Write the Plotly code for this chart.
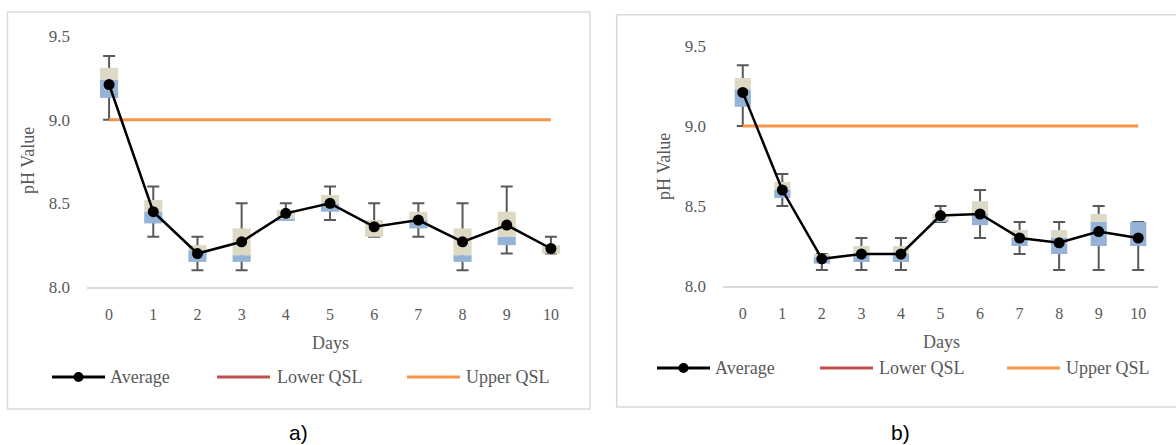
import plotly.graph_objects as go

W, H = 1176, 445

days = list(range(11))
tick_text = [str(d) for d in days]

# Panel a) statistics per day
a_min = [9.00, 8.30, 8.10, 8.10, 8.40, 8.40, 8.30, 8.30, 8.10, 8.20, 8.20]
a_q1 = [9.13, 8.38, 8.15, 8.15, 8.40, 8.45, 8.30, 8.35, 8.15, 8.25, 8.20]
a_med = [9.24, 8.45, 8.22, 8.19, 8.41, 8.50, 8.30, 8.40, 8.19, 8.30, 8.20]
a_q3 = [9.31, 8.52, 8.25, 8.35, 8.46, 8.55, 8.40, 8.45, 8.35, 8.45, 8.25]
a_max = [9.38, 8.60, 8.30, 8.50, 8.50, 8.60, 8.50, 8.50, 8.50, 8.60, 8.30]
a_avg = [9.21, 8.45, 8.20, 8.27, 8.44, 8.50, 8.36, 8.40, 8.27, 8.37, 8.23]

# Panel b) statistics per day
b_min = [9.00, 8.50, 8.10, 8.10, 8.10, 8.40, 8.30, 8.20, 8.10, 8.10, 8.10]
b_q1 = [9.12, 8.55, 8.14, 8.15, 8.15, 8.40, 8.38, 8.25, 8.20, 8.25, 8.25]
b_med = [9.23, 8.60, 8.18, 8.20, 8.20, 8.41, 8.45, 8.30, 8.30, 8.40, 8.40]
b_q3 = [9.30, 8.65, 8.20, 8.25, 8.25, 8.45, 8.53, 8.35, 8.35, 8.45, 8.40]
b_max = [9.38, 8.70, 8.20, 8.30, 8.30, 8.50, 8.60, 8.40, 8.40, 8.50, 8.40]
b_avg = [9.21, 8.60, 8.17, 8.20, 8.20, 8.44, 8.45, 8.30, 8.27, 8.34, 8.30]

upper_qsl = 9.0
lower_qsl = 6.5

y_ticks = [8.0, 8.5, 9.0, 9.5]
y_tick_text = ["8.0", "8.5", "9.0", "9.5"]

BLUE = "#95B3D7"
BEIGE = "#DDD9C4"
WHISK = "#595959"
ORANGE = "#F79646"
RED = "#C0504D"
GRID = "#D9D9D9"
TXT = "#595959"
SERIF = "Liberation Serif"
BW = 0.41


def px(x):
    return x / W


def py(y):
    return 1 - y / H


fig = go.Figure()


def add_panel(xa, ya, mn, q1, md, q3, mx, avg):
    # whiskers (drawn first, hidden behind boxes)
    fig.add_trace(go.Bar(
        x=days, base=mn, y=[b - a for a, b in zip(mn, mx)], width=BW,
        marker=dict(color="rgba(0,0,0,0)", line=dict(width=0)),
        error_y=dict(type="data", symmetric=False,
                     array=[0] * len(days),
                     arrayminus=[b - a for a, b in zip(mn, mx)],
                     color=WHISK, thickness=2, width=6),
        xaxis=xa, yaxis=ya, showlegend=False, hoverinfo="skip"))
    fig.add_trace(go.Bar(
        x=days, base=q1, y=[b - a for a, b in zip(q1, md)], width=BW,
        marker=dict(color=BLUE, line=dict(width=0)),
        xaxis=xa, yaxis=ya, showlegend=False))
    fig.add_trace(go.Bar(
        x=days, base=md, y=[b - a for a, b in zip(md, q3)], width=BW,
        marker=dict(color=BEIGE, line=dict(width=0)),
        xaxis=xa, yaxis=ya, showlegend=False))
    fig.add_trace(go.Scatter(
        x=days, y=[lower_qsl] * len(days), mode="lines",
        line=dict(color=RED, width=3), name="Lower QSL",
        xaxis=xa, yaxis=ya, showlegend=False))
    fig.add_trace(go.Scatter(
        x=days, y=[upper_qsl] * len(days), mode="lines",
        line=dict(color=ORANGE, width=3), name="Upper QSL",
        xaxis=xa, yaxis=ya, showlegend=False))
    fig.add_trace(go.Scatter(
        x=days, y=avg, mode="lines+markers",
        line=dict(color="black", width=2.5),
        marker=dict(color="black", size=11), name="Average",
        xaxis=xa, yaxis=ya, showlegend=False))


add_panel("x", "y", a_min, a_q1, a_med, a_q3, a_max, a_avg)
add_panel("x2", "y2", b_min, b_q1, b_med, b_q3, b_max, b_avg)

xcommon = dict(range=[-0.5, 10.5], tickmode="array", tickvals=days, ticktext=tick_text,
               showgrid=False, zeroline=False, showline=True, linecolor=GRID, linewidth=1.5,
               ticks="", tickfont=dict(family=SERIF, size=16, color=TXT),
               ticklabelstandoff=12, automargin=False, fixedrange=True)
ycommon = dict(range=[8.0, 9.5], tickmode="array", tickvals=y_ticks, ticktext=y_tick_text,
               showgrid=False, zeroline=False, showline=False, ticks="",
               tickfont=dict(family=SERIF, size=17, color=TXT),
               ticklabelstandoff=16, automargin=False, fixedrange=True)

shapes = []
annotations = []

# frames
shapes.append(dict(type="rect", xref="paper", yref="paper",
                   x0=px(7.5), x1=px(590), y0=py(409), y1=py(12),
                   line=dict(color=GRID, width=1.5), fillcolor="rgba(0,0,0,0)", layer="below"))
shapes.append(dict(type="rect", xref="paper", yref="paper",
                   x0=px(616.7), x1=px(1200), y0=py(407), y1=py(14.7),
                   line=dict(color=GRID, width=1.5), fillcolor="rgba(0,0,0,0)", layer="below"))


def legend(items, ly):
    for (x0, x1, tx, name, color, marker) in items:
        shapes.append(dict(type="line", xref="paper", yref="paper",
                           x0=px(x0), x1=px(x1), y0=py(ly), y1=py(ly),
                           line=dict(color=color, width=3)))
        if marker:
            c = (x0 + x1) / 2
            shapes.append(dict(type="circle", xref="paper", yref="paper",
                               x0=px(c - 5), x1=px(c + 5), y0=py(ly + 5), y1=py(ly - 5),
                               line=dict(color=color, width=0), fillcolor=color))
        annotations.append(dict(text=name, xref="paper", yref="paper",
                                x=px(tx), y=py(ly), xanchor="left", yanchor="middle",
                                showarrow=False,
                                font=dict(family=SERIF, size=18, color=TXT)))


legend([(52, 105, 108, "Average", "black", True),
        (217, 270, 275, "Lower QSL", RED, False),
        (407, 460, 464, "Upper QSL", ORANGE, False)], 377)
legend([(657, 710, 713, "Average", "black", True),
        (820, 873, 877, "Lower QSL", RED, False),
        (1007, 1060, 1064, "Upper QSL", ORANGE, False)], 368)

# axis titles
for (x, y, t, ang) in [(330, 343, "Days", 0), (941, 342, "Days", 0),
                       (28, 161, "pH Value", -90), (664, 167, "pH Value", -90)]:
    annotations.append(dict(text=t, xref="paper", yref="paper", x=px(x), y=py(y),
                            xanchor="center", yanchor="middle", showarrow=False, textangle=ang,
                            font=dict(family=SERIF, size=18, color=TXT)))

# panel labels
for (x, t) in [(298, "a)"), (900, "b)")]:
    annotations.append(dict(text=t, xref="paper", yref="paper", x=px(x), y=py(432),
                            xanchor="center", yanchor="middle", showarrow=False,
                            font=dict(family="Liberation Sans", size=21, color="black")))

fig.update_layout(
    width=W, height=H,
    margin=dict(l=0, r=0, t=0, b=0),
    paper_bgcolor="white", plot_bgcolor="rgba(0,0,0,0)",
    barmode="overlay", showlegend=False,
    xaxis=dict(domain=[px(87), px(573)], anchor="y", **xcommon),
    yaxis=dict(domain=[py(287), py(36)], anchor="x", **ycommon),
    xaxis2=dict(domain=[px(723), px(1158)], anchor="y2", **xcommon),
    yaxis2=dict(domain=[py(286), py(46)], anchor="x2", **ycommon),
    shapes=shapes, annotations=annotations,
)

fig.write_html(
    "out.html",
    config={"displayModeBar": False},
    post_script="document.body.style.margin='0px';document.body.style.overflow='hidden';",
)
